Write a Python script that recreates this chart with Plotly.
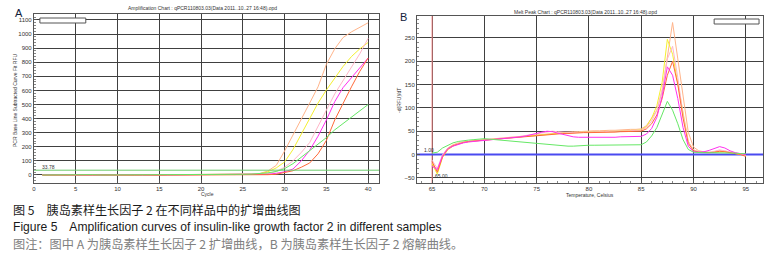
import plotly.graph_objects as go

# ---------------- DATA ----------------
# Panel A: amplification curves (cycle vs RFU)
CYCLES = list(range(1, 41))
AMP_PEACH = [0, 1, -1, 0, 1, 2, 0, -1, 0, 1, 0, 0, 1, -1, 0, 1, 2, 1, 0, 1, 2, 3, 3, 4, 5, 6,
             10, 28, 68, 170, 280, 395, 510, 625, 785, 895, 975, 1015, 1050, 1080]
AMP_YELLOW = [1, 0, 0, -1, 1, 0, 1, 2, 0, -1, 0, 1, 0, 1, 0, -1, 1, 0, 1, 2, 1, 2, 3, 3, 4, 5,
              8, 22, 50, 92, 180, 290, 395, 510, 603, 690, 770, 840, 895, 940]
AMP_PINK = [0, -1, 1, 0, 0, 1, 0, 1, -1, 0, 1, 0, 0, 1, 1, 0, -1, 0, 1, 1, 2, 1, 2, 2, 3, 4,
            5, 10, 25, 55, 100, 160, 230, 340, 460, 575, 670, 760, 860, 970]
AMP_MAGENTA = [1, 0, 0, 1, -1, 0, 0, 1, 0, 0, -1, 1, 0, 0, 1, 0, 0, 1, 0, 0, 1, 1, 0, 1, 1, 2,
               2, 5, 12, 22, 42, 100, 175, 275, 390, 520, 620, 690, 755, 830]
AMP_ORANGE = [-1, 0, 1, 0, 0, -1, 0, 0, 1, 0, 0, -1, 0, -2, -1, 0, 0, 0, -1, 0, 0, 0, 1, 0, -1, 0,
              1, 2, 5, 15, 30, 55, 85, 150, 245, 390, 510, 625, 735, 830]
AMP_GREEN = [0, 1, 0, 0, 0, 3, 2, 0, 0, 0, 1, 0, 0, 2, 4, 1, 3, 2, 1, 3, 2, 3, 3, 4, 5, 6,
             8, 15, 25, 45, 80, 125, 170, 215, 265, 320, 365, 410, 455, 500]
THRESHOLD = 33.78
AMP_XTICKS = [0, 5, 10, 15, 20, 25, 30, 35, 40]
AMP_YTICKS = [0, 100, 200, 300, 400, 500, 600, 700, 800, 900, 1000, 1100]

# Panel B: melt peak curves (temperature vs -d(RFU)/dT)
TEMPS = [65 + 0.5 * i for i in range(61)]
MELT_PEACH = [-18, -35, -2, 14, 21, 25, 27, 29, 30, 31,
              32, 34, 35, 36, 37, 38, 39, 40, 41, 42,
              43, 44, 45, 46, 47, 48, 48, 49, 49, 50,
              50, 51, 51, 52, 52, 52, 53, 53, 54, 54,
              55, 62, 78, 95, 135, 205, 283, 205, 125, 48,
              16, 8, 6, 5, 6, 8, 7, 5, 3, 1, -3]
MELT_YELLOW = [-20, -42, -6, 10, 18, 23, 26, 28, 29, 30,
               31, 32, 34, 35, 36, 37, 38, 39, 40, 41,
               42, 43, 44, 45, 46, 46, 47, 47, 48, 48,
               49, 49, 49, 50, 50, 50, 51, 51, 52, 52,
               53, 60, 78, 105, 155, 247, 215, 150, 88, 28,
               10, 6, 5, 4, 5, 6, 6, 4, 2, 1, -2]
MELT_PINK = [-12, -30, 0, 13, 19, 24, 27, 28, 30, 31,
             32, 33, 34, 35, 36, 37, 38, 39, 41, 43,
             45, 47, 49, 50, 49, 48, 47, 47, 48, 48,
             48, 49, 49, 49, 50, 50, 50, 51, 51, 52,
             52, 58, 72, 95, 140, 205, 232, 165, 85, 28,
             10, 6, 5, 5, 7, 10, 8, 5, 3, 1, -2]
MELT_ORANGE = [-15, -38, -5, 12, 19, 23, 26, 28, 29, 30,
               31, 32, 33, 34, 35, 36, 37, 38, 39, 40,
               40, 41, 42, 43, 44, 45, 45, 46, 46, 47,
               47, 47, 48, 48, 48, 48, 49, 49, 49, 49,
               50, 55, 66, 85, 120, 170, 200, 150, 78, 24,
               8, 5, 4, 4, 5, 7, 6, 4, 2, 0, -4]
MELT_MAGENTA = [-25, -32, -3, 12, 18, 22, 25, 27, 28, 29,
                30, 31, 32, 33, 34, 35, 36, 38, 40, 43,
                46, 48, 50, 49, 46, 43, 40, 38, 37, 37,
                36, 36, 36, 37, 37, 37, 38, 38, 38, 39,
                39, 44, 56, 80, 125, 188, 170, 120, 58, 18,
                6, 5, 6, 9, 13, 17, 14, 8, 4, 2, 0]
MELT_GREEN = [3, 5, 14, 20, 25, 28, 30, 31, 32, 33,
              34, 33, 32, 30, 29, 28, 27, 26, 25, 25,
              24, 23, 22, 21, 20, 19, 18, 18, 19, 19,
              20, 20, 20, 20, 20, 20, 20, 20, 20, 21,
              21, 27, 40, 58, 85, 114, 95, 66, 32, 11,
              5, 4, 4, 4, 4, 3, 3, 3, 3, 2, 2]
MELT_START_T = 65.0
MELT_XTICKS = [65, 70, 75, 80, 85, 90, 95]
MELT_YTICKS = [-50, 0, 50, 100, 150, 200, 250]

TITLE_A = "Amplification Chart : qPCR110803.03(Data 2011..10..27 16:48).opd"
TITLE_B = "Melt Peak Chart : qPCR110803.03(Data 2011..10..27 16:48).opd"
CAP1 = "图 5\u3000胰岛素样生长因子 2 在不同样品中的扩增曲线图"
CAP2 = "Figure 5\u3000Amplification curves of insulin-like growth factor 2 in different samples"
CAP3 = "图注：图中 A 为胰岛素样生长因子 2 扩增曲线，B 为胰岛素样生长因子 2 熔解曲线。"

# ---------------- STYLE ----------------
W, H = 774, 260
def px(x):
    return x / W
def py(y):
    return 1 - y / H

AMP_XRANGE = [0, 41.3]
AMP_YRANGE = [-57, 1142]
MELT_XRANGE = [63.55, 96.65]
MELT_YRANGE = [-61, 297]

COLORS = {
    "peach": "#FFB48A",
    "yellow": "#F5F030",
    "pink": "#FFB6C8",
    "magenta": "#FF30F0",
    "orange": "#FF6A3A",
    "green": "#66E866",
}
GRID = "#404040"
TICKFONT = dict(family="Liberation Sans", size=6, color="#333333")

fig = go.Figure()

amp = [("peach", AMP_PEACH), ("yellow", AMP_YELLOW), ("pink", AMP_PINK),
       ("magenta", AMP_MAGENTA), ("orange", AMP_ORANGE), ("green", AMP_GREEN)]
for name, ys in amp:
    fig.add_trace(go.Scatter(x=CYCLES, y=ys, mode="lines", xaxis="x", yaxis="y",
                             line=dict(color=COLORS[name], width=1), showlegend=False,
                             hoverinfo="skip"))
# threshold line
fig.add_trace(go.Scatter(x=AMP_XRANGE, y=[THRESHOLD, THRESHOLD], mode="lines", xaxis="x", yaxis="y",
                         line=dict(color="#6CCB6C", width=1), showlegend=False, hoverinfo="skip"))

# start temperature marker (red) and zero baseline (blue)
fig.add_trace(go.Scatter(x=[MELT_START_T, MELT_START_T], y=MELT_YRANGE, mode="lines",
                         xaxis="x2", yaxis="y2", line=dict(color="#F08080", width=1),
                         showlegend=False, hoverinfo="skip"))
fig.add_trace(go.Scatter(x=MELT_XRANGE, y=[0, 0], mode="lines", xaxis="x2", yaxis="y2",
                         line=dict(color="#4A4AF0", width=2), showlegend=False, hoverinfo="skip"))

melt = [("peach", MELT_PEACH), ("yellow", MELT_YELLOW), ("pink", MELT_PINK),
        ("orange", MELT_ORANGE), ("magenta", MELT_MAGENTA), ("green", MELT_GREEN)]
for name, ys in melt:
    fig.add_trace(go.Scatter(x=TEMPS, y=ys, mode="lines", xaxis="x2", yaxis="y2",
                             line=dict(color=COLORS[name], width=1), showlegend=False,
                             hoverinfo="skip"))

def axis(minor_dtick, **kw):
    d = dict(showgrid=True, gridcolor=GRID, gridwidth=1, zeroline=False,
             showline=True, linecolor="#555555", linewidth=1, mirror=True,
             ticks="inside", ticklen=3, tickcolor="#555555", tickfont=TICKFONT,
             tickmode="array")
    if minor_dtick:
        d["minor"] = dict(dtick=minor_dtick, ticklen=2, tickcolor="#888888", ticks="inside",
                          showgrid=False)
    d.update(kw)
    return d

fig.update_layout(
    width=W, height=H, margin=dict(l=0, r=0, t=0, b=0),
    paper_bgcolor="white", plot_bgcolor="white",
    xaxis=axis(None, domain=[px(32), px(378)], range=AMP_XRANGE, tickvals=AMP_XTICKS, anchor="y"),
    yaxis=axis(20, domain=[py(183), py(14)], range=AMP_YRANGE, tickvals=AMP_YTICKS, anchor="x"),
    xaxis2=axis(1, domain=[px(416), px(763)], range=MELT_XRANGE, tickvals=MELT_XTICKS, anchor="y2"),
    yaxis2=axis(10, domain=[py(183), py(16)], range=MELT_YRANGE, tickvals=MELT_YTICKS, anchor="x2"),
)

# legend boxes
fig.add_shape(type="rect", xref="paper", yref="paper", x0=px(38), x1=px(84), y0=py(23), y1=py(18),
              line=dict(color="#555555", width=1), fillcolor="white")
fig.add_shape(type="rect", xref="paper", yref="paper", x0=px(714), x1=px(759), y0=py(24), y1=py(19),
              line=dict(color="#555555", width=1), fillcolor="white")

def ann(text, x, y, size, color="#333333", family="Liberation Sans", xanchor="center",
        yanchor="middle", angle=0, xref="paper", yref="paper"):
    fig.add_annotation(text=text, x=x, y=y, xref=xref, yref=yref, showarrow=False,
                       xanchor=xanchor, yanchor=yanchor, textangle=angle,
                       font=dict(family=family, size=size, color=color))

# chart titles
ann(TITLE_A, px(201), py(8), 5)
ann(TITLE_B, px(585), py(12), 5)
# panel labels
ann("A", px(17), py(13), 11, color="#10203a", family="Liberation Sans")
ann("B", px(403), py(17), 11, color="#10203a", family="Liberation Sans")
# axis titles
ann("PCR Base Line Subtracted Curve Fit RFU", px(13), py(100), 5, angle=-90)
ann("Cycle", px(206), py(194), 5)
ann("-d(RFU)/dT", px(398), py(100), 5, angle=-90)
ann("Temperature, Celsius", px(590), py(195), 5)
# threshold / marker labels
ann("%.2f" % THRESHOLD, px(38), py(167), 5, xanchor="left")
ann("1.00", px(421), py(150), 5, xanchor="left")
ann("%.2f" % MELT_START_T, px(432), py(176), 5, xanchor="left")

# captions
ann(CAP1, px(9), py(209), 12.1, color="#1a1a1a", family="Noto Sans CJK SC", xanchor="left")
ann(CAP2, px(9), py(227), 12.1, color="#1a1a1a", family="Liberation Sans", xanchor="left")
ann(CAP3, px(9), py(244), 12.2, color="#808080", family="Noto Sans CJK SC", xanchor="left")

fig.write_html("out.html", post_script="document.body.style.margin='0';",
               config={"displayModeBar": False, "staticPlot": True})
